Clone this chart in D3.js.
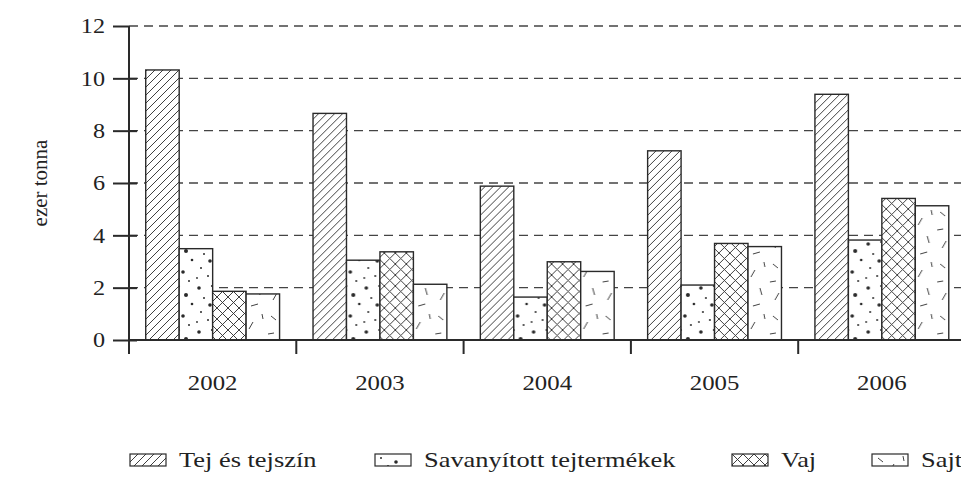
<!DOCTYPE html>
<html>
<head>
<meta charset="utf-8">
<script src="https://cdn.jsdelivr.net/npm/d3@7"></script>
<style>
  body { margin: 0; background: #fff; }
  svg text { font-family: "Liberation Serif", "Times New Roman", "DejaVu Serif", serif; }
</style>
</head>
<body>
<svg id="chart" width="961" height="479"></svg>
<script>
// data
const years = ["2002", "2003", "2004", "2005", "2006"];
const seriesNames = ["Tej és tejszín", "Savanyított tejtermékek", "Vaj", "Sajt"];
const tej = [10.32, 8.66, 5.88, 7.23, 9.39];
const savanyitott = [3.49, 3.05, 1.64, 2.10, 3.82];
const vaj = [1.86, 3.37, 2.99, 3.69, 5.41];
const sajt = [1.76, 2.13, 2.62, 3.57, 5.13];
const yTicks = [0, 2, 4, 6, 8, 10, 12];

const series = [tej, savanyitott, vaj, sajt];
const patternIds = ["p-hatch", "p-dots", "p-cross", "p-dash"];
const ink = "#2a2a2a";
const serif = "Liberation Serif, Times New Roman, serif";

// the source text is a bit wider than plain Times, stretch it horizontally
function widen(sel, k) {
  sel.each(function () {
    const n = this.getComputedTextLength();
    d3.select(this).attr("textLength", n * k).attr("lengthAdjust", "spacingAndGlyphs");
  });
}

const svg = d3.select("#chart");
const defs = svg.append("defs");

// diagonal hatch
const ph = defs.append("pattern").attr("id", "p-hatch")
  .attr("patternUnits", "userSpaceOnUse").attr("width", 8).attr("height", 8);
ph.append("rect").attr("width", 8).attr("height", 8).attr("fill", "#fff");
ph.append("path").attr("d", "M-2,2 L2,-2 M0,8 L8,0 M6,10 L10,6")
  .attr("stroke", ink).attr("stroke-width", 0.9);

// dots
const pd = defs.append("pattern").attr("id", "p-dots")
  .attr("patternUnits", "userSpaceOnUse").attr("width", 33).attr("height", 44);
pd.append("rect").attr("width", 33).attr("height", 44).attr("fill", "#fff");
[[6, 4, 1], [21, 8, 1.8], [13, 12, 1], [27, 17, 1], [4, 24, 1.8], [17, 22, 1.1],
 [24, 31, 2], [9, 34, 1], [30, 40, 1.3], [15, 41, 1.8], [2, 14, 0.9]]
  .forEach(d => pd.append("circle").attr("cx", d[0]).attr("cy", d[1]).attr("r", d[2]).attr("fill", ink));

// crosshatch
const pc = defs.append("pattern").attr("id", "p-cross")
  .attr("patternUnits", "userSpaceOnUse").attr("width", 11).attr("height", 11);
pc.append("rect").attr("width", 11).attr("height", 11).attr("fill", "#fff");
pc.append("path").attr("d", "M0,0 L11,11 M11,0 L0,11")
  .attr("stroke", ink).attr("stroke-width", 0.9);

// sparse dashes
const pj = defs.append("pattern").attr("id", "p-dash")
  .attr("patternUnits", "userSpaceOnUse").attr("width", 34).attr("height", 52);
pj.append("rect").attr("width", 34).attr("height", 52).attr("fill", "#fff");
pj.append("path")
  .attr("d", "M6,4 L11,8 M22,10 L18,17 M3,22 L9,21 M27,28 L29,35 M12,33 L8,40 M20,46 L27,44 M31,2 L32,7")
  .attr("stroke", ink).attr("stroke-width", 0.9);

const x = d3.scaleBand().domain(years).range([129, 129 + 5 * 167.3]);
const xs = d3.scaleBand().domain(d3.range(4)).range([0, x.bandwidth()]).paddingOuter(0.5);
const y = d3.scaleLinear().domain([0, 12]).range([340, 26]);

// gridlines
svg.append("g").selectAll("line").data(yTicks.filter(t => t > 0)).join("line")
  .attr("x1", 129).attr("x2", 961)
  .attr("y1", d => y(d)).attr("y2", d => y(d))
  .attr("stroke", "#444").attr("stroke-width", 1.3).attr("stroke-dasharray", "9,6");

// bars
const groups = svg.append("g").selectAll("g").data(years).join("g")
  .attr("transform", d => `translate(${x(d)},0)`);
groups.selectAll("rect").data((d, i) => series.map((s, k) => ({ k, v: s[i] }))).join("rect")
  .attr("x", d => xs(d.k)).attr("width", xs.bandwidth())
  .attr("y", d => y(d.v)).attr("height", d => y(0) - y(d.v))
  .attr("fill", d => `url(#${patternIds[d.k]})`)
  .attr("stroke", ink).attr("stroke-width", 1.4);

// y axis
const ya = svg.append("g").attr("transform", "translate(129,0)")
  .call(d3.axisLeft(y).tickValues(yTicks).tickSize(16).tickPadding(8));
ya.attr("font-family", serif);
ya.select(".domain").remove();
ya.selectAll(".tick line").attr("x1", d => d === 12 ? 0 : 8).attr("stroke", ink).attr("stroke-width", 2);
ya.selectAll(".tick text").attr("font-size", 21).attr("fill", "#222").attr("font-family", serif)
  .call(widen, 1.15);
svg.append("line").attr("x1", 129).attr("x2", 129).attr("y1", y(12)).attr("y2", 353)
  .attr("stroke", ink).attr("stroke-width", 2);

// x axis
svg.append("line").attr("x1", 129).attr("x2", 961).attr("y1", y(0)).attr("y2", y(0))
  .attr("stroke", ink).attr("stroke-width", 2.2);
svg.append("g").selectAll("line").data(years).join("line")
  .attr("x1", d => x(d)).attr("x2", d => x(d)).attr("y1", y(0)).attr("y2", 354)
  .attr("stroke", ink).attr("stroke-width", 2);
svg.append("g").selectAll("text").data(years).join("text")
  .attr("x", d => x(d) + x.bandwidth() / 2).attr("y", 390)
  .attr("text-anchor", "middle").attr("font-size", 21).attr("fill", "#222")
  .attr("font-family", serif)
  .text(d => d)
  .call(widen, 1.18);

// y label
svg.append("text").attr("transform", "translate(47,183) rotate(-90)")
  .attr("text-anchor", "middle").attr("font-size", 21).attr("fill", "#222")
  .attr("font-family", serif)
  .text("ezer tonna");

// legend
const legendX = [130, 375, 732, 872];
const lg = svg.append("g").selectAll("g").data(seriesNames).join("g")
  .attr("transform", (d, i) => `translate(${legendX[i]},454)`);
lg.append("rect").attr("width", 36).attr("height", 12)
  .attr("fill", (d, i) => `url(#${patternIds[i]})`)
  .attr("stroke", ink).attr("stroke-width", 1.2);
lg.append("text").attr("x", 49).attr("y", 13).attr("font-size", 22).attr("fill", "#222")
  .attr("font-family", serif)
  .text(d => d)
  .call(widen, 1.2);
</script>
</body>
</html>
